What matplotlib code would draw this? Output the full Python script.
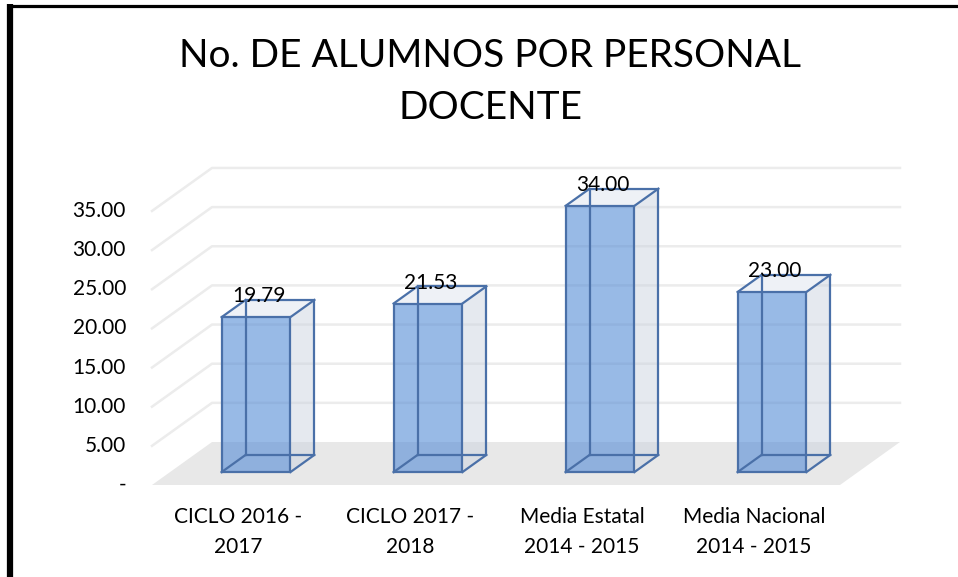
import numpy as np
import matplotlib
matplotlib.use("Agg")
import matplotlib.pyplot as plt
from matplotlib.patches import Polygon

plt.rcParams['font.family'] = ['Lato', 'DejaVu Sans']

# Datos
categorias = ["CICLO 2016 -\n2017", "CICLO 2017 -\n2018",
              "Media Estatal\n2014 - 2015", "Media Nacional\n2014 - 2015"]
valores = [19.79, 21.53, 34.00, 23.00]
ticks = [0, 5, 10, 15, 20, 25, 30, 35]
tick_labels = ["-", "5.00", "10.00", "15.00", "20.00", "25.00", "30.00", "35.00"]
titulo = "No. DE ALUMNOS POR PERSONAL\nDOCENTE"

# pixel mapping: x = 152 + 172*u ; y = 485 - 7.83*v
W, H = 958, 577
sx, x0 = 172.0, 152.0
sy, y0 = 7.83, 485.0
dx = 60 / sx      # profundidad en x
dy = 43 / sy      # profundidad en y

fig = plt.figure(figsize=(W / 100, H / 100), dpi=100)
ax = fig.add_axes([0, 0, 1, 1])
ax.set_xlim(-x0 / sx, (W - x0) / sx)
ax.set_ylim((y0 - H) / sy, y0 / sy)
ax.axis("off")

n = len(valores)
grid_col = "#ececec"

# piso
ax.add_patch(Polygon([(0, 0), (n, 0), (n + dx, dy), (dx, dy)],
                     closed=True, fc="#e8e8e8", ec="none", zorder=1))
# lineas de la cuadricula (pared del fondo y lateral)
for t in ticks[1:]:
    ax.plot([0, dx, n + dx], [t, t + dy, t + dy], color=grid_col, lw=1.8, zorder=1)

# barras 3D
edge = "#4a70a8"
f, b, w = 0.3, 0.7, 0.4
for i, v in enumerate(valores):
    cx = i + 0.5
    xl_f, xr_f = cx - w / 2 + f * dx, cx + w / 2 + f * dx
    xl_b, xr_b = cx - w / 2 + b * dx, cx + w / 2 + b * dx
    yb_f, yb_b = f * dy, b * dy
    yt_f, yt_b = v + f * dy, v + b * dy
    # cara lateral
    ax.add_patch(Polygon([(xr_f, yb_f), (xr_b, yb_b), (xr_b, yt_b), (xr_f, yt_f)],
                         closed=True, fc=(0.80, 0.83, 0.88, 0.5), ec="none", zorder=2))
    # cara superior
    ax.add_patch(Polygon([(xl_f, yt_f), (xr_f, yt_f), (xr_b, yt_b), (xl_b, yt_b)],
                         closed=True, fc="#eef1f6", ec="none", zorder=2))
    # cara frontal
    ax.add_patch(Polygon([(xl_f, yb_f), (xr_f, yb_f), (xr_f, yt_f), (xl_f, yt_f)],
                         closed=True, fc=(0.33, 0.55, 0.84, 0.6), ec="none", zorder=3))
    # aristas
    segs = [
        ([xl_f, xr_f, xr_f, xl_f, xl_f], [yb_f, yb_f, yt_f, yt_f, yb_f]),
        ([xl_b, xr_b, xr_b, xl_b, xl_b], [yb_b, yb_b, yt_b, yt_b, yb_b]),
        ([xl_f, xl_b], [yb_f, yb_b]), ([xr_f, xr_b], [yb_f, yb_b]),
        ([xl_f, xl_b], [yt_f, yt_b]), ([xr_f, xr_b], [yt_f, yt_b]),
    ]
    for xs, ys in segs:
        ax.plot(xs, ys, color=edge, lw=1.6, zorder=4, solid_joinstyle="miter")
    ax.text(cx + f * dx + 0.015, yt_b - 0.3, f"{v:.2f}", ha="center", va="baseline",
            fontsize=15, color="black", zorder=5)

# etiquetas del eje y
for t, lab in zip(ticks, tick_labels):
    ax.text(-26 / sx, t, lab, ha="right", va="center", fontsize=15)

# etiquetas de categorias
for i, c in enumerate(categorias):
    ax.text(i + 0.5, -(532 - y0) / sy, c, ha="center", va="center",
            fontsize=15, linespacing=1.6)

fig.text(490 / W, 1 - 82 / H, titulo, ha="center", va="center", fontsize=28,
         linespacing=1.55)

# borde
fig.add_artist(plt.Line2D([10 / W, 10 / W], [0, 1 - 4 / H], color="black", lw=4.5,
                          transform=fig.transFigure, solid_capstyle="butt"))
fig.add_artist(plt.Line2D([8 / W, 1], [1 - 5.5 / H, 1 - 5.5 / H], color="black", lw=2.3,
                          transform=fig.transFigure, solid_capstyle="butt"))

fig.savefig("out.png", dpi=100)
